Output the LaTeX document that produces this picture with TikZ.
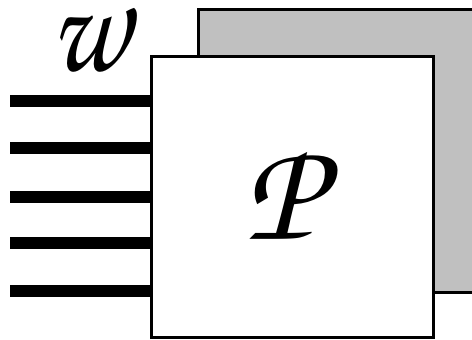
\documentclass[tikz,border=0pt]{standalone}
\usepackage[T1]{fontenc}
\definecolor{backgray}{RGB}{192,192,192}
\newcommand{\zapf}{\fontencoding{T1}\fontfamily{pzc}\fontseries{m}\fontshape{it}\selectfont}
\tikzset{
  box/.style={draw=black, line width=3pt, inner sep=0pt, anchor=north west},
  wire/.style={line width=12pt, line cap=butt},
  lbl/.style={inner sep=0pt},
}
\begin{document}
\begin{tikzpicture}[x=1pt,y=-1pt]
\useasboundingbox (0,0) rectangle (472,340);
\begin{scope}
\clip (0,0) rectangle (472,340);
\node[box, fill=backgray, minimum width=300pt, minimum height=283pt] (back) at (197,8) {};
\end{scope}
\foreach \i/\y in {1/101,2/148,3/197,4/243,5/291}{
  \coordinate (l\i) at (10,\y);
}
\node[box, fill=white, minimum width=282pt, minimum height=281pt] (P) at (150,55) {};
\foreach \i in {1,...,5}{
  \draw[wire] (l\i) -- (l\i -| P.west);
}
\node[box, fill=white, minimum width=282pt, minimum height=281pt] (Pf) at (150,55) {};
\node[lbl] (Plabel) at (284,195) {\zapf\fontsize{145}{145}\selectfont P};
\node[lbl, xscale=0.82] (w) at (90,37) {\zapf\fontsize{140}{140}\selectfont w};
\end{tikzpicture}
\end{document}
